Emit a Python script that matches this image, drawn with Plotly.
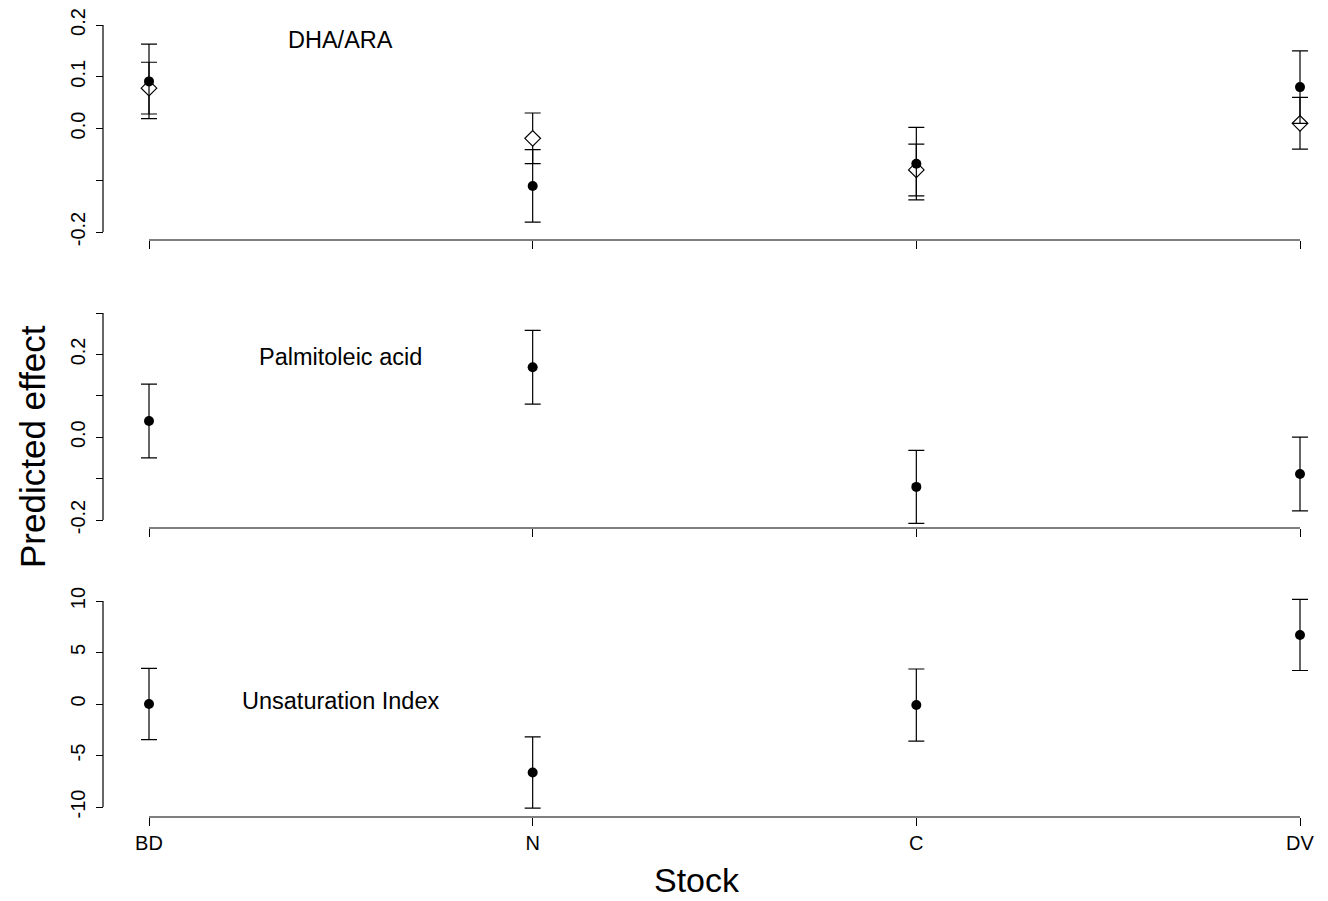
import plotly.graph_objects as go

stocks = ["BD", "N", "C", "DV"]
xpos = [0, 1, 2, 3]

dha_filled = [0.091, -0.111, -0.068, 0.080]
dha_filled_err = [0.072, 0.070, 0.070, 0.070]
dha_open = [0.078, -0.019, -0.080, 0.010]
dha_open_err = [0.050, 0.049, 0.050, 0.050]

palm = [0.039, 0.169, -0.120, -0.089]
palm_err = [0.089, 0.089, 0.088, 0.089]

unsat = [0.0, -6.65, -0.1, 6.7]
unsat_err = [3.45, 3.45, 3.5, 3.45]

W, H = 1328, 901
FONT = "Liberation Sans, Arial, sans-serif"

def fy(px):
    return 1 - px / H

def fx(px):
    return px / W

fig = go.Figure()

def err_style(arr):
    return dict(type="data", array=arr, visible=True, color="black",
                thickness=1.2, width=8)

# panel 1
fig.add_trace(go.Scatter(x=xpos, y=dha_open, mode="markers",
                         marker=dict(symbol="diamond", size=12, color="white",
                                     line=dict(color="black", width=1.2)),
                         error_y=err_style(dha_open_err), cliponaxis=False,
                         xaxis="x", yaxis="y", showlegend=False))
fig.add_trace(go.Scatter(x=xpos, y=dha_filled, mode="markers",
                         marker=dict(symbol="circle", size=10, color="black"),
                         error_y=err_style(dha_filled_err), cliponaxis=False,
                         xaxis="x", yaxis="y", showlegend=False))
# panel 2
fig.add_trace(go.Scatter(x=xpos, y=palm, mode="markers",
                         marker=dict(symbol="circle", size=10, color="black"),
                         error_y=err_style(palm_err), cliponaxis=False,
                         xaxis="x2", yaxis="y2", showlegend=False))
# panel 3
fig.add_trace(go.Scatter(x=xpos, y=unsat, mode="markers",
                         marker=dict(symbol="circle", size=10, color="black"),
                         error_y=err_style(unsat_err), cliponaxis=False,
                         xaxis="x3", yaxis="y3", showlegend=False))

# x: category 0 at px 149, category 3 at px 1300
PXU = (1300 - 149) / 3.0
XL, XR = 130, 1320
xrange_ = [-(149 - XL) / PXU, 3 + (XR - 1300) / PXU]
xdom = [fx(XL), fx(XR)]
yaxpos = fx(103)

def xaxis(pos, labels):
    return dict(domain=xdom, range=xrange_, anchor="free", position=pos,
                showline=False, automargin=False,
                ticks="outside", ticklen=8, tickwidth=1.2, tickcolor="black",
                tickvals=xpos, ticktext=stocks, showticklabels=labels,
                showgrid=False, zeroline=False,
                tickfont=dict(family=FONT, size=20, color="black"))

def yaxis(top_px, bot_px, lo, hi, tv, tt):
    pxu = (bot_px - top_px) / (hi - lo)
    pad = 12
    rng = [lo - pad / pxu, hi + pad / pxu]
    dom = [fy(bot_px + pad), fy(top_px - pad)]
    return dict(domain=dom, range=rng, anchor="free", position=yaxpos,
                showline=False, automargin=False,
                ticks="outside", ticklen=7, tickwidth=1.2, tickcolor="black",
                tickvals=tv, ticktext=tt, tickangle=-90, ticklabelstandoff=3,
                showgrid=False, zeroline=False,
                tickfont=dict(family=FONT, size=20, color="black"))

fig.update_layout(
    width=W, height=H, plot_bgcolor="rgba(0,0,0,0)", paper_bgcolor="white",
    margin=dict(l=0, r=0, t=0, b=0, autoexpand=False),
    xaxis=xaxis(fy(240), False),
    xaxis2=xaxis(fy(528), False),
    xaxis3=xaxis(fy(817), True),
    yaxis=yaxis(25, 232, -0.2, 0.2,
                [-0.2, -0.1, 0.0, 0.1, 0.2], ["-0.2", "", "0.0", "0.1", "0.2"]),
    yaxis2=yaxis(313, 520, -0.2, 0.3,
                 [-0.2, -0.1, 0.0, 0.1, 0.2, 0.3], ["-0.2", "", "0.0", "", "0.2", ""]),
    yaxis3=yaxis(601, 807, -10, 10,
                 [-10, -5, 0, 5, 10], ["-10", "-5", "0", "5", "10"]),
)

# axis lines (R style: spanning only the tick range)
for xa, ya, pos, lo, hi in [("x", "y", 240, -0.2, 0.2),
                            ("x2", "y2", 528, -0.2, 0.3),
                            ("x3", "y3", 817, -10, 10)]:
    fig.add_shape(type="line", xref=xa, yref="paper", x0=0, x1=3,
                  y0=fy(pos), y1=fy(pos), line=dict(color="black", width=1.2))
    fig.add_shape(type="line", xref="paper", yref=ya, x0=yaxpos, x1=yaxpos,
                  y0=lo, y1=hi, line=dict(color="black", width=1.2))

ann_font = dict(family=FONT, size=23.5, color="black")
fig.add_annotation(x=fx(340), y=fy(40), xref="paper", yref="paper", text="DHA/ARA",
                   showarrow=False, xanchor="center", yanchor="middle", font=ann_font)
fig.add_annotation(x=fx(341), y=fy(357), xref="paper", yref="paper", text="Palmitoleic acid",
                   showarrow=False, xanchor="center", yanchor="middle", font=ann_font)
fig.add_annotation(x=fx(341), y=fy(701), xref="paper", yref="paper", text="Unsaturation Index",
                   showarrow=False, xanchor="center", yanchor="middle", font=ann_font)
fig.add_annotation(x=fx(697), y=fy(880), xref="paper", yref="paper", text="Stock",
                   showarrow=False, xanchor="center", yanchor="middle",
                   font=dict(family=FONT, size=34, color="black"))
fig.add_annotation(x=fx(33), y=fy(447), xref="paper", yref="paper", text="Predicted effect",
                   showarrow=False, xanchor="center", yanchor="middle", textangle=-90,
                   font=dict(family=FONT, size=35, color="black"))

fig.write_html("out.html", config={"displayModeBar": False},
               post_script="document.body.style.margin='0';document.body.style.overflow='hidden';")
